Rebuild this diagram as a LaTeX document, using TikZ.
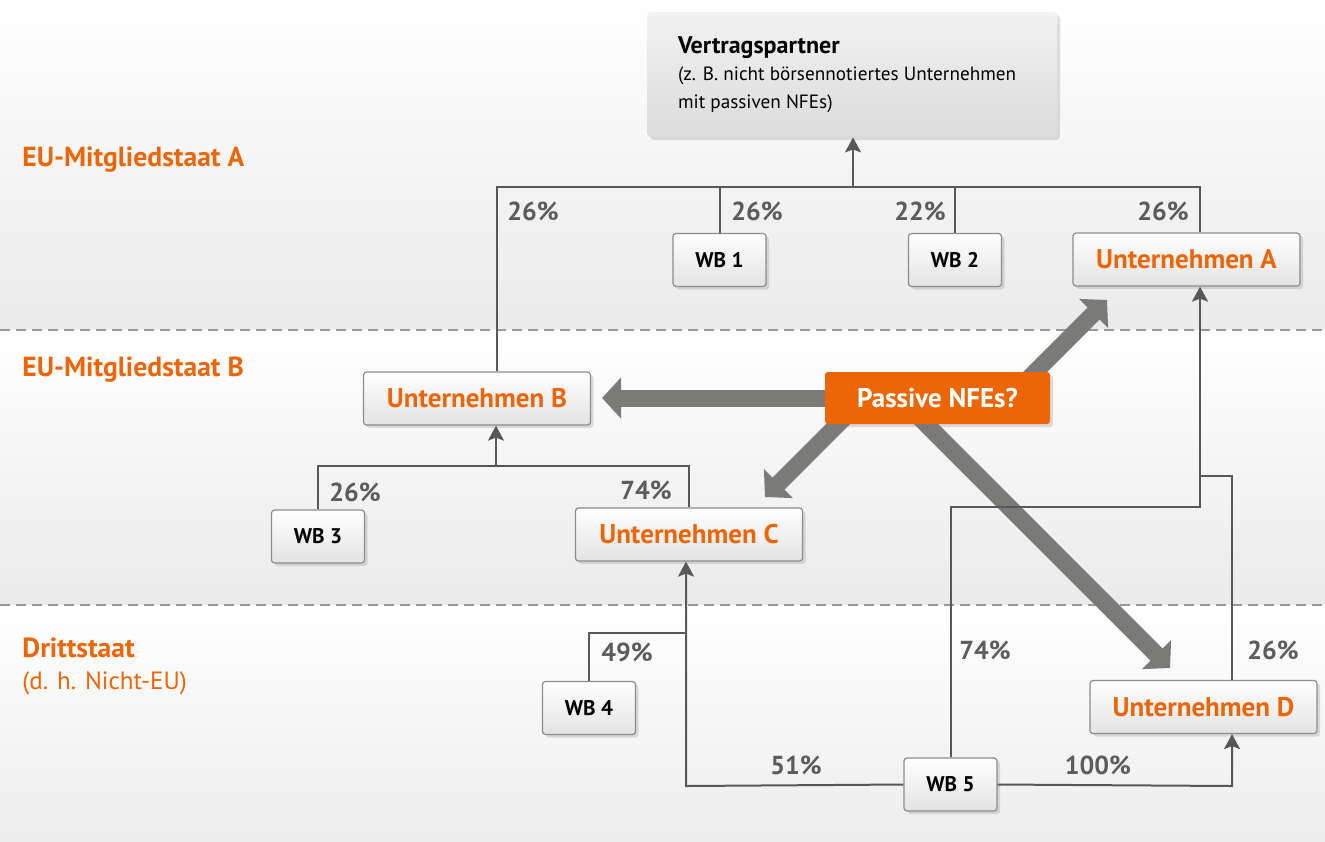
\documentclass[tikz,border=0pt]{standalone}
\usepackage{fontspec}
\setmainfont{PT Sans}
\usepackage{tikz}
\usetikzlibrary{arrows.meta,calc,shadows,backgrounds}

\definecolor{nfeorange}{RGB}{236,102,8}
\definecolor{linegray}{RGB}{88,88,88}
\definecolor{fatgray}{RGB}{122,122,120}
\definecolor{pctgray}{RGB}{92,92,92}

\pgfdeclarelayer{bands}
\pgfsetlayers{bands,background,main}

\begin{document}
\begin{tikzpicture}[x=0.5pt,y=-0.5pt,
	ln/.style={draw=linegray,line width=1pt},
	arr/.style={ln,-{Stealth[length=7.5pt,width=8pt,inset=1.5pt]}},
	fat/.style={draw=fatgray,line width=8.5pt,-{Triangle[length=9.5pt,width=20pt]}}]
	\tikzstyle{box}=[rectangle,rounded corners=1.5pt,draw=black!45,line width=0.6pt,
	                 top color=white,bottom color=black!11,minimum height=26.5pt,
	                 drop shadow={opacity=0.25,shadow xshift=1.5pt,shadow yshift=-1.5pt}]
	\tikzstyle{firm}=[box,minimum width=113.5pt,text=nfeorange,font=\fontsize{13.5}{15}\selectfont\bfseries]
	\tikzstyle{owner}=[box,minimum width=46.5pt,font=\fontsize{10.6}{12}\selectfont\bfseries]
	\tikzstyle{pct}=[text=pctgray,inner sep=0pt,font=\fontsize{13}{15}\selectfont\bfseries]
	\tikzstyle{region}=[anchor=west,inner sep=0pt,text=nfeorange,align=left,font=\fontsize{13.8}{16}\selectfont\bfseries]

	\useasboundingbox (0,0) rectangle (1325,841);

	% Laender-Streifen
	\begin{pgfonlayer}{bands}
		\shade[top color=white,bottom color=black!8] (0,0) rectangle (1325,329);
		\shade[top color=white,bottom color=black!8] (0,331) rectangle (1325,604);
		\shade[top color=white,bottom color=black!7] (0,606) rectangle (1325,841);
		\draw[black!40,line width=1pt,dash pattern=on 5pt off 3pt] (0,330) -- (1325,330);
		\draw[black!40,line width=1pt,dash pattern=on 5pt off 3pt] (0,605) -- (1325,605);
	\end{pgfonlayer}

	\node[region] (regA) at (22,160) {EU-Mitgliedstaat A};
	\node[region] (regB) at (22,370) {EU-Mitgliedstaat B};
	\node[region] (regC) at (22,666) {Drittstaat\\{\mdseries\fontsize{12.5}{16}\selectfont (d. h. Nicht-EU)}};

	% Knoten
	\node[rectangle,rounded corners=2pt,top color=black!5,bottom color=black!14,
	      minimum width=205pt,minimum height=62.5pt,text width=174pt,inner xsep=15.5pt,
	      align=flush left,font=\fontsize{9.6}{13.75}\selectfont,
	      drop shadow={opacity=0.25,shadow xshift=1.5pt,shadow yshift=-1.5pt}]
	      (vp) at (852,74.5)
	      {{\bfseries\fontsize{12}{13.75}\selectfont Vertragspartner}\\(z. B. nicht börsennotiertes Unternehmen\\mit passiven NFEs)};

	\node[owner] (wb1) at (719.5,260) {WB 1};
	\node[owner] (wb2) at (955,260)   {WB 2};
	\node[firm]  (ua)  at (1186.5,259.5) {Unternehmen A};
	\node[firm]  (ub)  at (477,398.5) {Unternehmen B};
	\node[owner] (wb3) at (318,536.5) {WB 3};
	\node[firm]  (uc)  at (689,534.5) {Unternehmen C};
	\node[owner] (wb4) at (589,708)   {WB 4};
	\node[owner] (wb5) at (950.5,784.5) {WB 5};
	\node[firm]  (ud)  at (1203.5,707) {Unternehmen D};
	\node[rectangle,rounded corners=1.5pt,fill=nfeorange,text=white,
	      minimum width=112.5pt,minimum height=26pt,font=\fontsize{13.5}{15}\selectfont\bfseries,
	      drop shadow={opacity=0.25,shadow xshift=1.5pt,shadow yshift=-1.5pt}]
	      (nfe) at (937.5,398) {Passive NFEs?};

	% Beteiligungen Staat A
	\coordinate (tA1) at (497,187);
	\coordinate (tA2) at (853,187);
	\coordinate (tA4) at (1200,187);
	\draw[ln] (ub.north -| tA1) -- (tA1) -- (tA4) -- (ua.north -| tA4);
	\draw[ln] (wb1.north) -- (wb1.north |- tA1);
	\draw[ln] (wb2.north) -- (wb2.north |- tA1);
	\draw[arr] (tA2) -- (vp.south -| tA2);
	\node[pct] (p1) at (533,211) {26\%};
	\node[pct] (p2) at (757,211) {26\%};
	\node[pct] (p3) at (920,211) {22\%};
	\node[pct] (p4) at (1163,211) {26\%};

	% Beteiligungen Staat B
	\coordinate (jB) at (496,466);
	\draw[ln] (wb3.north) |- (jB) -| (uc.north);
	\draw[arr] (jB) -- (jB |- ub.south);
	\node[pct] (p5) at (355,492) {26\%};
	\node[pct] (p6) at (646,490) {74\%};

	% Drittstaat
	\coordinate (jC) at (686,786);
	\coordinate (jC4) at (686,633);
	\coordinate (jD) at (1232,786);
	\coordinate (jE) at (1200,507);
	\coordinate (jF) at (1232,476);
	\draw[arr] (wb5.west) -- (jC) -- (jC |- uc.south);
	\draw[ln] (wb4.north) |- (jC4);
	\draw[arr] (wb5.east) -- (jD) -- (jD |- ud.south);
	\draw[arr] (wb5.north) |- (jE) -- (jE |- ua.south);
	\draw[ln] (jD |- ud.north) -- (jF) -- (jF -| jE);
	\node[pct] (p7) at (627,652) {49\%};
	\node[pct] (p8) at (796,765) {51\%};
	\node[pct] (p9) at (985,650) {74\%};
	\node[pct] (p10) at (1098,765) {100\%};
	\node[pct] (p11) at (1273,650) {26\%};

	% dicke Pfeile
	\coordinate (tipB) at (602,398);
	\coordinate (tipA) at (1107,300);
	\coordinate (tipC) at (765,497);
	\coordinate (tipD) at (1170,668);
	\begin{pgfonlayer}{background}
		\draw[fat] (nfe.center) -- (tipB);
		\draw[fat] ($(nfe.center)+(71.5,0)$) -- (tipA);
		\draw[fat] ($(nfe.center)+(-73.5,0)$) -- (tipC);
		\draw[fat] ($(nfe.center)+(-37.5,0)$) -- (tipD);
	\end{pgfonlayer}
\end{tikzpicture}
\end{document}
